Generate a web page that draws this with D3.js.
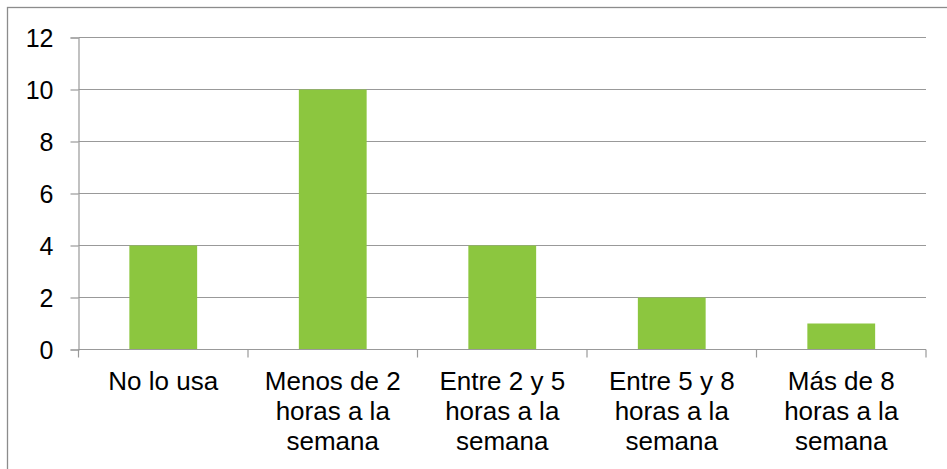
<!DOCTYPE html>
<html>
<head>
<meta charset="utf-8">
<script src="https://cdn.jsdelivr.net/npm/d3@7"></script>
<style>
  body { margin: 0; background: #fff; }
  text { font-family: "Liberation Sans", Arial, sans-serif; fill: #000; }
</style>
</head>
<body>
<div id="chart"></div>
<script>
// Data
var categories = [
  ["No lo usa"],
  ["Menos de 2", "horas a la", "semana"],
  ["Entre 2 y 5", "horas a la", "semana"],
  ["Entre 5 y 8", "horas a la", "semana"],
  ["Más de 8", "horas a la", "semana"]
];
var values = [4, 10, 4, 2, 1];
var yTicks = [0, 2, 4, 6, 8, 10, 12];

var W = 947, H = 469;
var margin = {top: 37.5, left: 78.5, right: 21, bottom: 119.5};
var width = W - margin.left - margin.right,
    height = H - margin.top - margin.bottom;

var svg = d3.select("#chart").append("svg")
    .attr("width", W)
    .attr("height", H);

// outer chart frame (runs past right/bottom edge)
svg.append("rect")
    .attr("x", 7.5).attr("y", 7.5)
    .attr("width", W + 20).attr("height", H + 20)
    .attr("fill", "none")
    .attr("stroke", "#8c8c8c")
    .attr("stroke-width", 1.3);

var g = svg.append("g")
    .attr("transform", "translate(" + margin.left + "," + margin.top + ")");

var idx = d3.range(categories.length);
var x = d3.scaleBand().domain(idx).range([0, width]).padding(0);
var y = d3.scaleLinear().domain([0, 12]).range([height, 0]);

// gridlines
g.selectAll(".grid")
  .data(yTicks.filter(function(d) { return d > 0; }))
  .enter().append("line")
    .attr("x1", 0).attr("x2", width)
    .attr("y1", function(d) { return y(d); })
    .attr("y2", function(d) { return y(d); })
    .attr("stroke", "#999")
    .attr("stroke-width", 1.2);

// bars
var bw = x.bandwidth() * 0.4;
g.selectAll(".bar")
  .data(values)
  .enter().append("rect")
    .attr("x", function(d, i) { return x(i) + (x.bandwidth() - bw) / 2; })
    .attr("y", function(d) { return y(d); })
    .attr("width", bw)
    .attr("height", function(d) { return y(0) - y(d); })
    .attr("fill", "#8cc63f");

// y axis
var yAxis = g.append("g")
    .call(d3.axisLeft(y).tickValues(yTicks).tickSize(8).tickPadding(17));
yAxis.select(".domain").attr("stroke", "#999").attr("stroke-width", 1.2);
yAxis.selectAll(".tick line").attr("stroke", "#999").attr("stroke-width", 1.2);
yAxis.selectAll(".tick text")
    .style("font-size", "25px")
    .attr("dy", "0.36em")
    .style("font-family", "'Liberation Sans', Arial, sans-serif");

// x axis line + boundary ticks
g.append("line")
    .attr("x1", 0).attr("x2", width)
    .attr("y1", height).attr("y2", height)
    .attr("stroke", "#999").attr("stroke-width", 1.2);
var bounds = idx.map(function(i) { return x(i); }).concat([width]);
g.selectAll(".xtick")
  .data(bounds)
  .enter().append("line")
    .attr("x1", function(d) { return d; })
    .attr("x2", function(d) { return d; })
    .attr("y1", height).attr("y2", height + 8)
    .attr("stroke", "#999").attr("stroke-width", 1.2);

// category labels
var labels = g.selectAll(".xlabel")
  .data(categories)
  .enter().append("text")
    .attr("text-anchor", "middle")
    .attr("transform", function(d, i) {
      return "translate(" + (x(i) + x.bandwidth() / 2) + "," + (height + 40) + ")";
    })
    .style("font-size", "26px");
labels.selectAll("tspan")
  .data(function(d) { return d; })
  .enter().append("tspan")
    .attr("x", 0)
    .attr("y", function(d, j) { return j * 30; })
    .text(function(d) { return d; });
</script>
</body>
</html>
